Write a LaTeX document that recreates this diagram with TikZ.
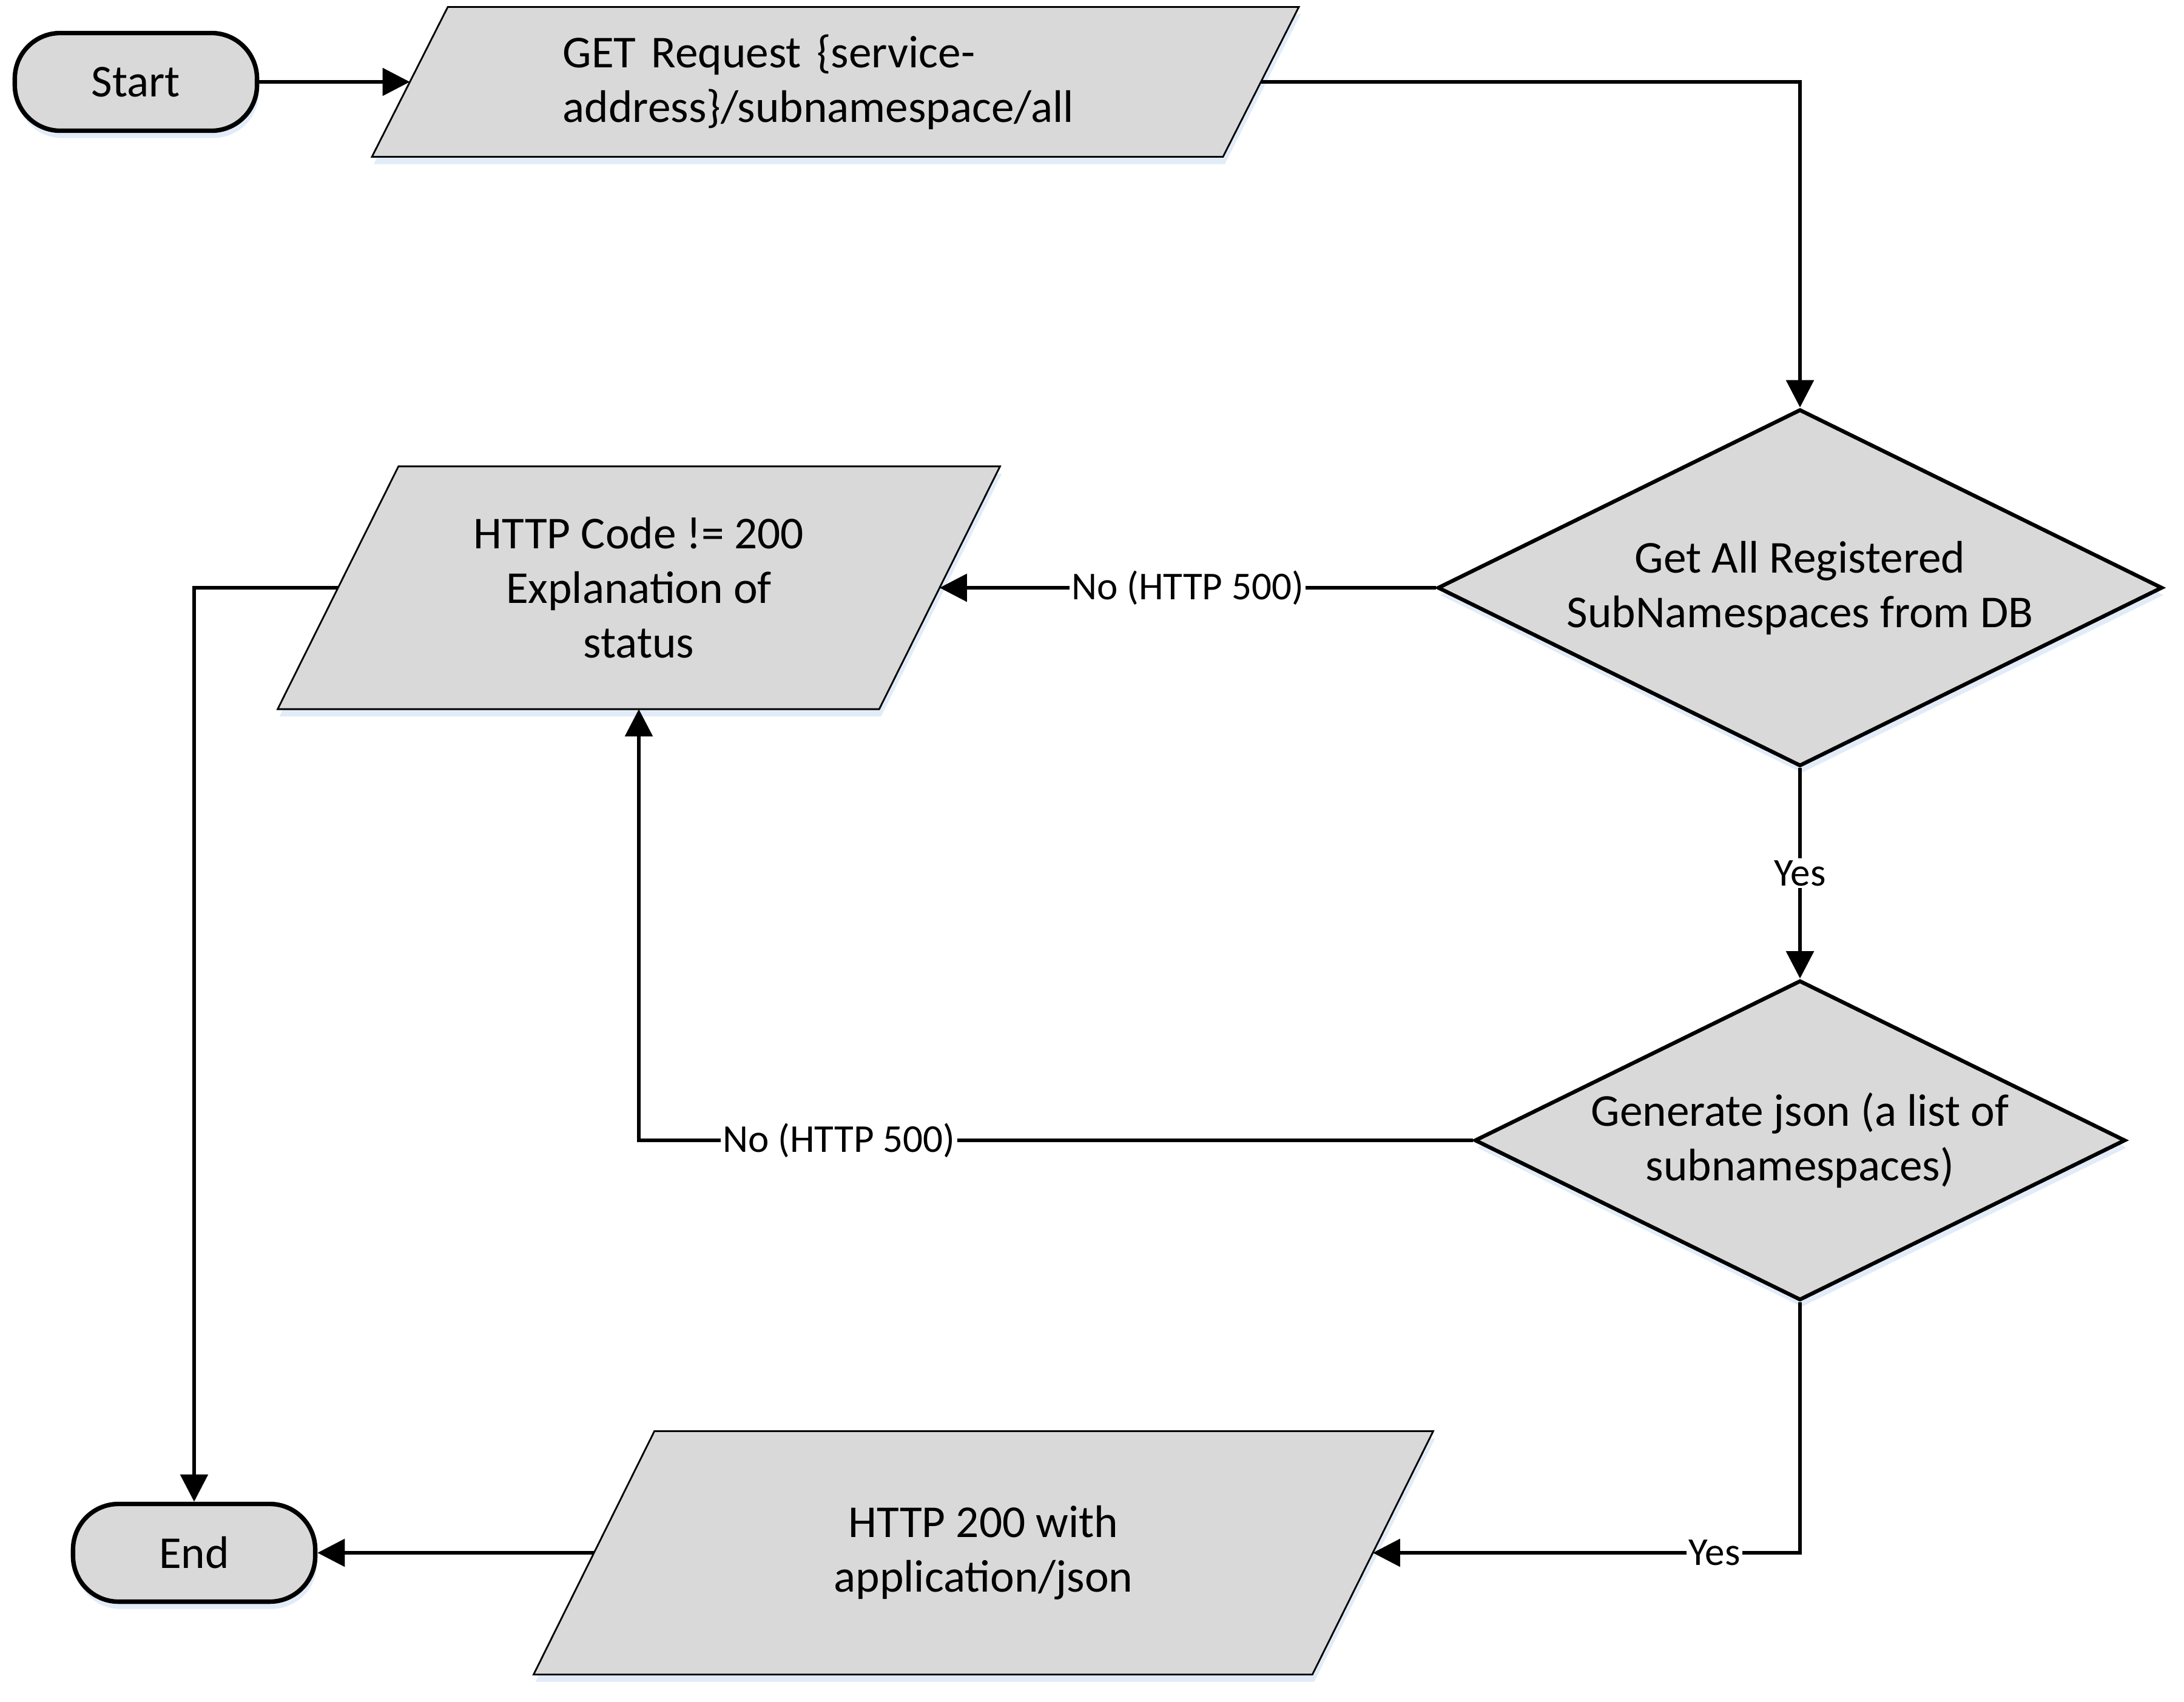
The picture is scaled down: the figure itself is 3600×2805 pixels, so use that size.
\documentclass[tikz,border=0pt]{standalone}
\usepackage{fontspec}
\setmainfont{Carlito}
\usepackage{tikz}
\usetikzlibrary{shapes.geometric, arrows.meta, backgrounds, shadows}
\definecolor{boxgray}{HTML}{D9D9D9}
\definecolor{shadowblue}{HTML}{E2ECF8}
\tikzset{
  softshadow/.style={drop shadow={shadow xshift=0.03cm, shadow yshift=-0.12cm,
                     fill=shadowblue, opacity=1}},
  terminal/.style={rectangle, draw=black, fill=boxgray, rounded corners=0.75cm,
                   minimum width=3.99cm, minimum height=1.61cm, line width=2.1pt,
                   align=center, softshadow},
  decision/.style={diamond, draw=black, fill=boxgray, aspect=2, inner sep=0pt,
                   align=center, line width=1.8pt, softshadow},
  iobody/.style={rectangle, inner sep=0pt, outer sep=0pt, align=center},
  iobox/.style={draw=black, fill=boxgray, line width=0.8pt, softshadow},
  flowarrow/.style={-{Triangle[length=0.45cm, width=0.45cm]}, line width=1.7pt},
  edgelabel/.style={fill=white, inner sep=1pt, font=\fontsize{18.5pt}{22pt}\selectfont},
}

\begin{document}
\begin{tikzpicture}[x=0.01cm, y=-0.01cm, font=\fontsize{21.4pt}{25.6pt}\selectfont]
  \useasboundingbox (0,0) rectangle (3600,2805);

  % Terminals
  \node[terminal] (start) at (224,135) {Start};
  \node[terminal] (finish) at (320,2560) {End};

  % Input / output
  \node[iobody, align=left, text width=8.98cm, minimum width=14.02cm, minimum height=2.47cm] (get) at (1377,135)
    {GET Request \{service-\\address\}/subnamespace/all};
  \node[iobody, minimum width=9.91cm, minimum height=4.00cm] (code) at (1053,969)
    {HTTP Code != 200\\Explanation of\\status};
  \node[iobody, minimum width=12.83cm, minimum height=4.01cm] (ok) at (1621,2560)
    {HTTP 200 with\\application/json};

  % Decisions
  \node[decision, minimum width=11.94cm, minimum height=5.88cm] (fetch) at (2967,969)
    {Get All Registered\\SubNamespaces from DB};
  \node[decision, minimum width=10.72cm, minimum height=5.27cm] (json) at (2967,1880)
    {Generate json (a list of\\subnamespaces)};

  % Parallelogram outlines behind the texts
  \begin{scope}[on background layer]
    \foreach \n/\s in {get/0.625cm, code/0.995cm, ok/0.995cm}
      \draw[iobox] ([xshift=\s]\n.north west) -- ([xshift=\s]\n.north east)
        -- ([xshift=-\s]\n.south east) -- ([xshift=-\s]\n.south west) -- cycle;
  \end{scope}

  % Edges
  \draw[flowarrow] (start.east) -- (get.west);
  \draw[flowarrow] (get.east) -| (fetch.north);
  \draw[flowarrow] (fetch.west) -- node[edgelabel] {No (HTTP 500)} (code.east);
  \draw[flowarrow] (fetch.south) -- node[edgelabel] {Yes} (json.north);
  \draw[flowarrow] (json.west) -| node[edgelabel, pos=0.38] {No (HTTP 500)} (code.south);
  \draw[flowarrow] (json.south) |- node[edgelabel, pos=0.6] {Yes} (ok.east);
  \draw[flowarrow] (ok.west) -- (finish.east);
  \draw[flowarrow] (code.west) -| (finish.north);

\end{tikzpicture}
\end{document}
